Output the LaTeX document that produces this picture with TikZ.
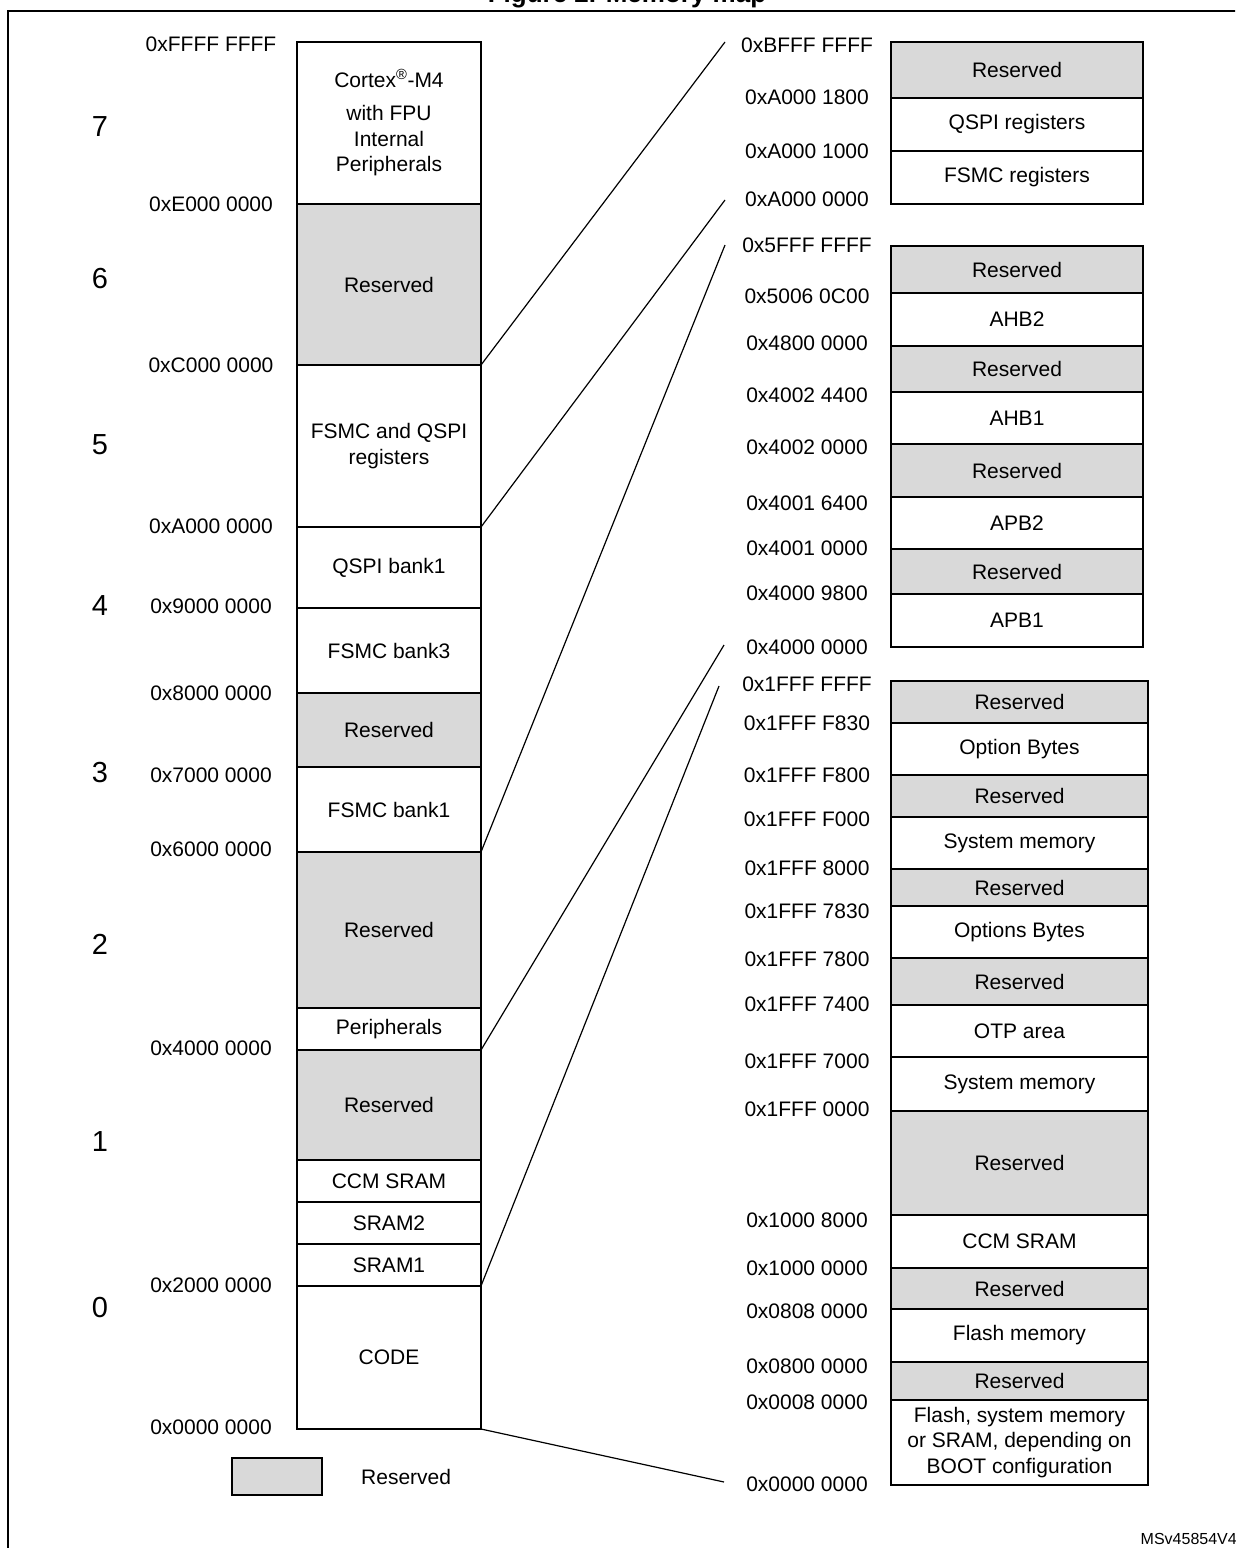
\documentclass[tikz,border=0pt]{standalone}
\usepackage{fontspec}
\setmainfont{Liberation Sans}
\usetikzlibrary{positioning}
\definecolor{resgray}{gray}{0.85}
\tikzset{
every node/.style={font=\fontsize{21}{25.5}\selectfont},
cell/.style={draw, line width=1.6pt, outer sep=0pt, inner sep=0pt, align=center},
lcell/.style={cell, minimum width=184pt},
rcell/.style={cell, minimum width=252pt},
bcell/.style={cell, minimum width=257pt},
lres/.style={lcell, fill=resgray},
rres/.style={rcell, fill=resgray},
bres/.style={bcell, fill=resgray},
addr/.style={inner sep=0pt},
bank/.style={inner sep=0pt, font=\fontsize{29}{34}\selectfont},
zoomline/.style={line width=1.2pt},
}

\begin{document}
\begin{tikzpicture}[x=1pt, y=-1pt]
\useasboundingbox (0,0) rectangle (1235,1548);
\clip (0,0) rectangle (1235,1548);
    \node[font=\bfseries\fontsize{26}{30}\selectfont, anchor=base, inner sep=0pt] (title) at (627,2) {Figure 2. Memory map};
    \draw[line width=1.3pt] (8,1560) |- (1240,11);
% whole 4 GB space
    \node[lcell, anchor=north west, minimum height=162pt] (cortex) at (297,42) {Cortex\textsuperscript{\textregistered}-M4\\[8pt] with FPU\\ Internal\\ Peripherals};
    \node[lres, minimum height=161pt, below=0pt of cortex] (res6) {Reserved};
    \node[lcell, minimum height=162pt, below=0pt of res6] (fsmcq) {FSMC and QSPI\\ registers};
    \node[lcell, minimum height=81pt, below=0pt of fsmcq] (qspib) {QSPI bank1};
    \node[lcell, minimum height=85pt, below=0pt of qspib] (fsmcb3) {FSMC bank3};
    \node[lres, minimum height=74pt, below=0pt of fsmcb3] (res3) {Reserved};
    \node[lcell, minimum height=85pt, below=0pt of res3] (fsmcb1) {FSMC bank1};
    \node[lres, minimum height=156pt, below=0pt of fsmcb1] (res2) {Reserved};
    \node[lcell, minimum height=42pt, below=0pt of res2] (periph) {Peripherals};
    \node[lres, minimum height=110pt, below=0pt of periph] (res1) {Reserved};
    \node[lcell, minimum height=42pt, below=0pt of res1] (ccm) {CCM SRAM};
    \node[lcell, minimum height=42pt, below=0pt of ccm] (sram2) {SRAM2};
    \node[lcell, minimum height=42pt, below=0pt of sram2] (sram1) {SRAM1};
    \node[lcell, minimum height=143pt, below=0pt of sram1] (code) {CODE};
    \node[addr] (a7) at (211,44) {0xFFFF FFFF};
    \node[addr] (a6) at (211,204) {0xE000 0000};
    \node[addr] (a5) at (211,365) {0xC000 0000};
    \node[addr] (a4) at (211,526) {0xA000 0000};
    \node[addr] (a4m) at (211,606) {0x9000 0000};
    \node[addr] (a3) at (211,693) {0x8000 0000};
    \node[addr] (a3m) at (211,775) {0x7000 0000};
    \node[addr] (a2) at (211,849) {0x6000 0000};
    \node[addr] (a1) at (211,1048) {0x4000 0000};
    \node[addr] (a0) at (211,1285) {0x2000 0000};
    \node[addr] (a00) at (211,1427) {0x0000 0000};
    \node[bank] (b7) at (100,127) {7};
    \node[bank] (b6) at (100,279) {6};
    \node[bank] (b5) at (100,445) {5};
    \node[bank] (b4) at (100,606) {4};
    \node[bank] (b3) at (100,773) {3};
    \node[bank] (b2) at (100,944) {2};
    \node[bank] (b1) at (100,1142) {1};
    \node[bank] (b0) at (100,1307) {0};
% FSMC and QSPI registers
    \node[rres, anchor=north west, minimum height=56pt] (qres) at (891,42) {Reserved};
    \node[rcell, minimum height=53pt, below=0pt of qres] (qspir) {QSPI registers};
    \node[rcell, minimum height=53pt, below=0pt of qspir] (fsmcr) {FSMC registers};
    \node[addr] (qa3) at (807,45) {0xBFFF FFFF};
    \node[addr] (qa2) at (807,97) {0xA000 1800};
    \node[addr] (qa1) at (807,151) {0xA000 1000};
    \node[addr] (qa0) at (807,199) {0xA000 0000};
% peripherals
    \node[rres, anchor=north west, minimum height=47pt] (pres5) at (891,246) {Reserved};
    \node[rcell, minimum height=53pt, below=0pt of pres5] (ahb2) {AHB2};
    \node[rres, minimum height=46pt, below=0pt of ahb2] (pres4) {Reserved};
    \node[rcell, minimum height=52pt, below=0pt of pres4] (ahb1) {AHB1};
    \node[rres, minimum height=53pt, below=0pt of ahb1] (pres3) {Reserved};
    \node[rcell, minimum height=52pt, below=0pt of pres3] (apb2) {APB2};
    \node[rres, minimum height=45pt, below=0pt of apb2] (pres2) {Reserved};
    \node[rcell, minimum height=53pt, below=0pt of pres2] (apb1) {APB1};
    \node[addr] (pa8) at (807,245) {0x5FFF FFFF};
    \node[addr] (pa7) at (807,296) {0x5006 0C00};
    \node[addr] (pa6) at (807,343) {0x4800 0000};
    \node[addr] (pa5) at (807,395) {0x4002 4400};
    \node[addr] (pa4) at (807,447) {0x4002 0000};
    \node[addr] (pa3) at (807,503) {0x4001 6400};
    \node[addr] (pa2) at (807,548) {0x4001 0000};
    \node[addr] (pa1) at (807,593) {0x4000 9800};
    \node[addr] (pa0) at (807,647) {0x4000 0000};
% code area
    \node[bres, anchor=north west, minimum height=42pt] (cres9) at (891,681) {Reserved};
    \node[bcell, minimum height=52pt, below=0pt of cres9] (opt1) {Option Bytes};
    \node[bres, minimum height=42pt, below=0pt of opt1] (cres8) {Reserved};
    \node[bcell, minimum height=52pt, below=0pt of cres8] (sys1) {System memory};
    \node[bres, minimum height=37pt, below=0pt of sys1] (cres7) {Reserved};
    \node[bcell, minimum height=52pt, below=0pt of cres7] (opt2) {Options Bytes};
    \node[bres, minimum height=47pt, below=0pt of opt2] (cres6) {Reserved};
    \node[bcell, minimum height=52pt, below=0pt of cres6] (otp) {OTP area};
    \node[bcell, minimum height=54pt, below=0pt of otp] (sys2) {System memory};
    \node[bres, minimum height=104pt, below=0pt of sys2] (cres5) {Reserved};
    \node[bcell, minimum height=53pt, below=0pt of cres5] (ccm2) {CCM SRAM};
    \node[bres, minimum height=41pt, below=0pt of ccm2] (cres4) {Reserved};
    \node[bcell, minimum height=53pt, below=0pt of cres4] (flash) {Flash memory};
    \node[bres, minimum height=38pt, below=0pt of flash] (cres3) {Reserved};
    \node[bcell, minimum height=85pt, below=0pt of cres3] (boot) {Flash, system memory\\ or SRAM, depending on\\ BOOT configuration};
    \node[addr] (ca15) at (807,684) {0x1FFF FFFF};
    \node[addr] (ca14) at (807,723) {0x1FFF F830};
    \node[addr] (ca13) at (807,775) {0x1FFF F800};
    \node[addr] (ca12) at (807,819) {0x1FFF F000};
    \node[addr] (ca11) at (807,868) {0x1FFF 8000};
    \node[addr] (ca10) at (807,911) {0x1FFF 7830};
    \node[addr] (ca9) at (807,959) {0x1FFF 7800};
    \node[addr] (ca8) at (807,1004) {0x1FFF 7400};
    \node[addr] (ca7) at (807,1061) {0x1FFF 7000};
    \node[addr] (ca6) at (807,1109) {0x1FFF 0000};
    \node[addr] (ca5) at (807,1220) {0x1000 8000};
    \node[addr] (ca4) at (807,1268) {0x1000 0000};
    \node[addr] (ca3) at (807,1311) {0x0808 0000};
    \node[addr] (ca2) at (807,1366) {0x0800 0000};
    \node[addr] (ca1) at (807,1402) {0x0008 0000};
    \node[addr] (ca0) at (807,1484) {0x0000 0000};
% legend
    \node[cell, fill=resgray, minimum width=90pt, minimum height=37pt] (key) at (277,1476.5) {};
    \node[addr, right=39pt of key] (keytext) {Reserved};
    \node[addr, anchor=east, font=\fontsize{16}{19}\selectfont] (ref) at (1237,1539) {MSv45854V4};
% zoom lines
    \coordinate (z1) at (725,42);
    \coordinate (z2) at (725,200);
    \coordinate (z3) at (725,245);
    \coordinate (z4) at (724,645);
    \coordinate (z5) at (719,686);
    \coordinate (z6) at (724,1482);
    \draw[zoomline] (res6.south east) -- (z1)
    (fsmcq.south east) -- (z2)
    (fsmcb1.south east) -- (z3)
    (periph.south east) -- (z4)
    (sram1.south east) -- (z5)
    (code.south east) -- (z6);
\end{tikzpicture}
\end{document}
